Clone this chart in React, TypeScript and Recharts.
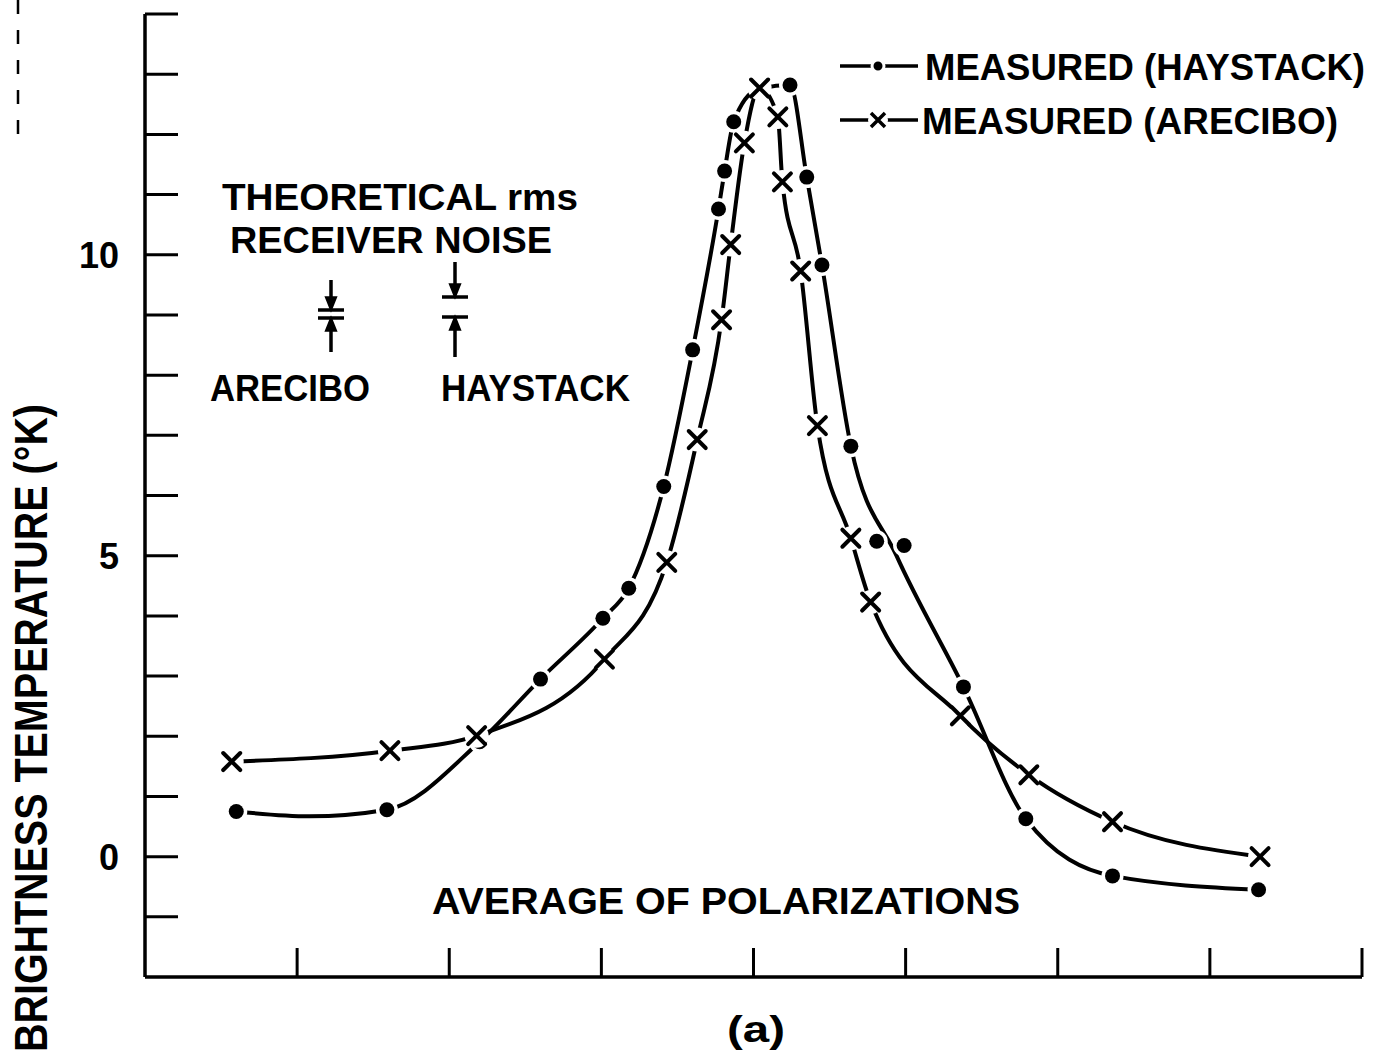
import React from 'react';
import { ComposedChart, Line, Scatter, XAxis, YAxis } from 'recharts';

// measured points; x is position along the (unlabelled) frequency axis, 8 intervals
const haystackX = [0.6, 1.59, 2.2, 2.6, 3.01, 3.18, 3.41, 3.6, 3.77, 3.81, 3.87, 4.24, 4.35, 4.45, 4.64, 4.81, 4.99, 5.38, 5.79, 6.36, 7.32];
const haystackT = [0.75, 0.78, 1.91, 2.95, 3.96, 4.46, 6.15, 8.42, 10.76, 11.39, 12.21, 12.82, 11.29, 9.83, 6.82, 5.24, 5.17, 2.82, 0.63, -0.32, -0.55];

const areciboX = [0.57, 1.61, 2.18, 3.02, 3.43, 3.63, 3.79, 3.85, 3.94, 4.04, 4.16, 4.19, 4.31, 4.42, 4.64, 4.77, 5.36, 5.81, 6.36, 7.33];
const areciboT = [1.58, 1.76, 2.01, 3.28, 4.89, 6.93, 8.92, 10.17, 11.86, 12.77, 12.29, 11.21, 9.73, 7.16, 5.29, 4.23, 2.34, 1.36, 0.58, 0.0];

// hand-drawn fitted curves
const haystackFitX = [0.6, 1.08, 1.59, 2.2, 2.6, 3.01, 3.18, 3.41, 3.6, 3.77, 3.81, 3.87, 4.03, 4.24, 4.35, 4.45, 4.64, 4.94, 5.38, 5.79, 6.36, 7.32];
const haystackFitT = [0.75, 0.67, 0.78, 1.91, 2.95, 3.96, 4.46, 6.15, 8.42, 10.76, 11.39, 12.21, 12.75, 12.82, 11.29, 9.83, 6.82, 5.0, 2.82, 0.63, -0.32, -0.55];

const areciboFitX = areciboX;
const areciboFitT = areciboT;

const xTicks = [1, 2, 3, 4, 5, 6, 7, 8];
const yTicks = [-1, 0, 1, 2, 3, 4, 5, 6, 7, 8, 9, 10, 11, 12, 13, 14];
const yLabels = [0, 5, 10];

const zip = (xs: number[], ts: number[]) => xs.map((x, i) => ({ x, t: ts[i] }));
const haystack = zip(haystackX, haystackT);
const arecibo = zip(areciboX, areciboT);
const haystackFit = zip(haystackFitX, haystackFitT);
const areciboFit = zip(areciboFitX, areciboFitT);

const FONT = '"Liberation Sans", Arial, sans-serif';

const DotMark = (props: any) => {
    const { cx, cy } = props;
    return (
        <g>
            <circle cx={cx} cy={cy} r={11} fill="#fff" />
            <circle cx={cx} cy={cy} r={7.5} fill="#000" />
        </g>
    );
};

const CrossMark = (props: any) => {
    const { cx, cy } = props;
    const s = 8.5;
    return (
        <g>
            <circle cx={cx} cy={cy} r={12} fill="#fff" />
            <path
                d={`M${cx - s},${cy - s}L${cx + s},${cy + s}M${cx - s},${cy + s}L${cx + s},${cy - s}`}
                stroke="#000"
                strokeWidth={4}
                strokeLinecap="round"
            />
        </g>
    );
};

const YTick = (props: any) => {
    const { x, y, payload } = props;
    const v = payload.value;
    return (
        <g>
            <line x1={x} y1={y} x2={x + 33} y2={y} stroke="#000" strokeWidth={3} />
            {yLabels.includes(v) && (
                <text
                    x={x - 26}
                    y={y + 13}
                    textAnchor="end"
                    fontFamily={FONT}
                    fontWeight="bold"
                    fontSize={36}
                    fill="#000"
                >
                    {v}
                </text>
            )}
        </g>
    );
};

const XTick = (props: any) => {
    const { x, y } = props;
    return <line x1={x} y1={y} x2={x} y2={y - 29} stroke="#000" strokeWidth={3} />;
};

// rms noise symbol: arrows pointing at a pair of short bars
const NoiseBar = ({ x, top, upper, lower, bottom }: any) => (
    <g stroke="#000" strokeWidth={3.5} fill="#000">
        <line x1={x} y1={top} x2={x} y2={upper - 4} />
        <path d={`M${x - 4},${upper - 12}L${x + 4},${upper - 12}L${x},${upper - 2}Z`} />
        <line x1={x - 13} y1={upper} x2={x + 13} y2={upper} />
        <line x1={x - 13} y1={lower} x2={x + 13} y2={lower} />
        <line x1={x} y1={bottom} x2={x} y2={lower + 4} />
        <path d={`M${x - 4},${lower + 12}L${x + 4},${lower + 12}L${x},${lower + 2}Z`} />
    </g>
);

const Label = ({ x, y, w, children }: any) => (
    <text
        x={x}
        y={y}
        fontFamily={FONT}
        fontWeight="bold"
        fontSize={37}
        textLength={w}
        lengthAdjust="spacingAndGlyphs"
        fill="#000"
    >
        {children}
    </text>
);

export default function App() {
    return (
        <div style={{ position: 'relative', width: 1373, height: 1054, background: '#fff' }}>
            <style>{`body{margin:0;background:#fff}`}</style>
            <ComposedChart
                width={1373}
                height={1054}
                margin={{ top: 14, right: 11, bottom: 76, left: 144 }}
            >
                <XAxis
                    type="number"
                    dataKey="x"
                    domain={[0, 8]}
                    ticks={xTicks}
                    height={1}
                    tickSize={0}
                    tickMargin={0}
                    tickLine={false}
                    tick={<XTick />}
                    interval={0}
                    axisLine={{ stroke: '#000', strokeWidth: 3.5 }}
                    allowDataOverflow
                />
                <YAxis
                    type="number"
                    dataKey="t"
                    domain={[-2, 14]}
                    ticks={yTicks}
                    width={1}
                    tickSize={0}
                    tickMargin={0}
                    tickLine={false}
                    tick={<YTick />}
                    interval={0}
                    axisLine={{ stroke: '#000', strokeWidth: 3.5 }}
                    allowDataOverflow
                />
                <Line
                    data={haystackFit}
                    dataKey="t"
                    type="monotone"
                    stroke="#000"
                    strokeWidth={4}
                    dot={false}
                    activeDot={false}
                    isAnimationActive={false}
                />
                <Line
                    data={areciboFit}
                    dataKey="t"
                    type="monotone"
                    stroke="#000"
                    strokeWidth={4}
                    dot={false}
                    activeDot={false}
                    isAnimationActive={false}
                />
                <Scatter data={haystack} dataKey="t" shape={<DotMark />} isAnimationActive={false} />
                <Scatter data={arecibo} dataKey="t" shape={<CrossMark />} isAnimationActive={false} />
            </ComposedChart>
            <svg
                width={1373}
                height={1054}
                style={{ position: 'absolute', left: 0, top: 0, pointerEvents: 'none' }}
            >
                {/* scan artefact at the left edge */}
                <line x1={18} y1={0} x2={18} y2={150} stroke="#000" strokeWidth={2.5} strokeDasharray="14 16" />

                {/* legend */}
                <line x1={840} y1={66} x2={918} y2={66} stroke="#000" strokeWidth={3.5} />
                <circle cx={878} cy={66} r={6} fill="#000" stroke="#fff" strokeWidth={3} />
                <Label x={925} y={80} w={440}>MEASURED (HAYSTACK)</Label>
                <line x1={840} y1={120} x2={918} y2={120} stroke="#000" strokeWidth={3.5} />
                <circle cx={878} cy={120} r={10} fill="#fff" />
                <path d="M871,113L885,127M871,127L885,113" stroke="#000" strokeWidth={3.5} />
                <Label x={922} y={134} w={416}>MEASURED (ARECIBO)</Label>

                {/* receiver noise annotation */}
                <Label x={222} y={210} w={356}>THEORETICAL rms</Label>
                <Label x={230} y={253} w={322}>RECEIVER NOISE</Label>
                <NoiseBar x={331} top={280} upper={310} lower={318} bottom={352} />
                <NoiseBar x={455} top={262} upper={297} lower={317} bottom={357} />
                <Label x={210} y={401} w={160}>ARECIBO</Label>
                <Label x={441} y={401} w={189}>HAYSTACK</Label>

                <Label x={432} y={914} w={588}>AVERAGE OF POLARIZATIONS</Label>
                <Label x={727} y={1042} w={58}>(a)</Label>

                <text
                    transform="translate(47,728) rotate(-90)"
                    textAnchor="middle"
                    fontFamily={FONT}
                    fontWeight="bold"
                    fontSize={47}
                    textLength={648}
                    lengthAdjust="spacingAndGlyphs"
                    fill="#000"
                >
                    BRIGHTNESS TEMPERATURE (°K)
                </text>
            </svg>
        </div>
    );
}
